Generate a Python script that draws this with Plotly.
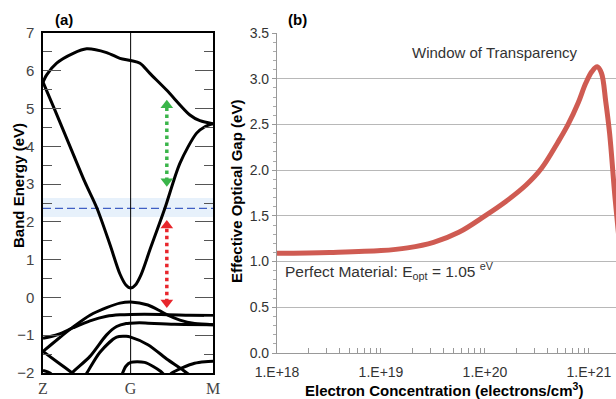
import numpy as np
import plotly.graph_objects as go

FONT = "Arial, 'Liberation Sans', Helvetica, sans-serif"
SERIF = "'Times New Roman', 'Liberation Serif', serif"

# ---------------- Panel (a): band structure ----------------
k_ticks = [0.0, 1.0, 1.94]
k_labels = ["Z", "G", "M"]

band_top_k = [0, 0.042, 0.156, 0.345, 0.498, 0.726, 0.878, 1.0, 1.107, 1.22, 1.41, 1.676, 1.79, 1.94]
band_top_E = [5.70, 5.89, 6.20, 6.46, 6.58, 6.48, 6.33, 6.27, 6.20, 5.93, 5.49, 4.83, 4.68, 4.60]

band_cb_k = [0, 0.137, 0.308, 0.479, 0.616, 0.764, 0.878, 0.946, 1.0, 1.054, 1.122, 1.22, 1.391, 1.562, 1.753, 1.847, 1.94]
band_cb_E = [5.70, 4.95, 4.00, 3.05, 2.36, 1.40, 0.62, 0.33, 0.25, 0.33, 0.62, 1.26, 2.36, 3.55, 4.35, 4.52, 4.60]

band_vb1_k = [0, 0.171, 0.345, 0.536, 0.726, 0.878, 1.0, 1.197, 1.345, 1.425, 1.562, 1.73, 1.94]
band_vb1_E = [-1.43, -1.10, -0.78, -0.47, -0.27, -0.15, -0.12, -0.20, -0.37, -0.47, -0.60, -0.69, -0.72]

band_vb2_k = [0, 0.171, 0.345, 0.536, 0.726, 0.878, 1.0, 1.345, 1.676, 1.94]
band_vb2_E = [-1.08, -0.98, -0.80, -0.62, -0.50, -0.46, -0.45, -0.45, -0.47, -0.48]

band_vb3_k = [0.29, 0.33, 0.536, 0.726, 0.84, 0.95, 1.0, 1.1, 1.2, 1.5, 1.94]
band_vb3_E = [-2.12, -2.0, -1.56, -0.99, -0.77, -0.69, -0.68, -0.67, -0.68, -0.71, -0.72]

band_vb4_k = [0, 0.171, 0.345, 0.45]
band_vb4_E = [-1.43, -1.72, -2.02, -2.2]

band_vb5_k = [0.47, 0.50, 0.65, 0.84, 0.95, 1.0, 1.197, 1.425, 1.619, 1.70]
band_vb5_E = [-2.1, -2.0, -1.45, -1.05, -1.03, -1.05, -1.25, -1.65, -1.96, -2.1]

band_vb6_k = [0.88, 0.90, 0.946, 1.0, 1.159, 1.345, 1.40]
band_vb6_E = [-2.2, -2.05, -1.82, -1.72, -1.72, -1.96, -2.1]

band_vb7_k = [1.42, 1.47, 1.60, 1.73, 1.85, 1.94]
band_vb7_E = [-2.12, -2.0, -1.85, -1.74, -1.70, -1.69]

band_vb8_k = [0, 0.08, 0.12]
band_vb8_E = [-1.93, -2.0, -2.1]

level_E = 2.36            # dashed level
level_band_E = [2.13, 2.63]
arrow_k = 1.413
green_arrow_E = [2.93, 5.23]
red_arrow_E = [-0.28, 2.05]

# ---------------- Panel (b): optical gap ----------------
conc = [1e18, 3.2e18, 1e19, 1.8e19, 3.2e19, 5.6e19, 1e20, 1.6e20, 2.5e20, 3.5e20, 5e20,
        6.3e20, 7.9e20, 9.3e20, 1.07e21, 1.2e21, 1.32e21, 1.45e21, 1.58e21, 1.78e21, 2.0e21]
gap = [1.09, 1.10, 1.12, 1.15, 1.21, 1.32, 1.50, 1.66, 1.84, 2.02, 2.30,
       2.50, 2.74, 2.95, 3.08, 3.13, 3.06, 2.75, 2.40, 1.70, 1.10]
window_conc = [9.4e20, 1.44e21]
decades = [1e18, 1e19, 1e20, 1e21]
decade_labels = ["1.E+18", "1.E+19", "1.E+20", "1.E+21"]

fig = go.Figure()

bands = [(band_top_k, band_top_E), (band_cb_k, band_cb_E), (band_vb1_k, band_vb1_E),
         (band_vb2_k, band_vb2_E), (band_vb3_k, band_vb3_E), (band_vb4_k, band_vb4_E),
         (band_vb5_k, band_vb5_E), (band_vb6_k, band_vb6_E), (band_vb7_k, band_vb7_E),
         (band_vb8_k, band_vb8_E)]
for bk, be in bands:
    fig.add_trace(go.Scatter(x=bk, y=be, mode="lines", xaxis="x", yaxis="y",
                             line=dict(color="black", width=3, shape="spline", smoothing=0.8),
                             hoverinfo="skip"))

px_per_eV = 340 / 9.0
head = 11
off = (head / 2) / px_per_eV
for col, (lo, hi) in (("#3ab54a", green_arrow_E), ("#e8262c", red_arrow_E)):
    fig.add_trace(go.Scatter(x=[arrow_k, arrow_k], y=[lo + 0.15, hi - 0.15], mode="lines",
                             xaxis="x", yaxis="y",
                             line=dict(color=col, width=3.5, dash="dot"), hoverinfo="skip"))
    fig.add_trace(go.Scatter(x=[arrow_k, arrow_k], y=[hi - off, lo + off], mode="markers",
                             xaxis="x", yaxis="y",
                             marker=dict(symbol=["triangle-up", "triangle-down"], size=head,
                                         color=col, line=dict(width=0)),
                             hoverinfo="skip"))

fig.add_trace(go.Scatter(x=conc, y=gap, mode="lines", xaxis="x2", yaxis="y2",
                         line=dict(color="#cf5b52", width=5, shape="spline", smoothing=1.0),
                         hoverinfo="skip"))

shapes = [
    dict(type="rect", xref="x", yref="y", x0=0, x1=k_ticks[-1], y0=level_band_E[0], y1=level_band_E[1],
         fillcolor="#e7f1fb", line=dict(width=0), layer="below"),
    dict(type="line", xref="x", yref="y", x0=0, x1=k_ticks[-1], y0=level_E, y1=level_E,
         line=dict(color="#3f5fc4", width=1.2, dash="8px,4px"), layer="below"),
    dict(type="line", xref="x", yref="y", x0=k_ticks[1], x1=k_ticks[1], y0=-2, y1=7,
         line=dict(color="black", width=1), layer="below"),
    dict(type="rect", xref="x2", yref="y2", x0=np.log10(window_conc[0]), x1=np.log10(window_conc[1]),
         y0=0, y1=3.5, fillcolor="rgba(170,204,222,0.5)", line=dict(width=0), layer="above"),
    dict(type="line", xref="x2", yref="y2", x0=18, x1=21.3, y0=3.5, y1=3.5,
         line=dict(color="#8a8a8a", width=1.3)),
]

minor_vals = []
for d in decades[:-1]:
    minor_vals += [d * m for m in range(2, 10)]
minor_vals += [2e21]


def note(text, x, y, size, color="#333", angle=0, xanchor="center"):
    return dict(text=text, xref="paper", yref="paper", x=x / 616, y=1 - y / 399,
                xanchor=xanchor, yanchor="middle", textangle=angle, showarrow=False,
                font=dict(family=FONT, size=size, color=color))


annotations = [
    note("<b>(a)</b>", 64, 19, 15, "black"),
    note("<b>(b)</b>", 297, 19, 15, "black"),
    note("<b>Band Energy (eV)</b>", 18, 186, 15, "black", -90),
    note("<b>Effective Optical Gap (eV)</b>", 236, 192, 15, "black", -90),
    note("<b>Electron Concentration (electrons/cm<sup>3</sup>)</b>", 444, 389, 15, "black"),
    note("Window of Transparency", 580, 52, 15, xanchor="right"),
    note("Perfect Material: E<sub>opt</sub> = 1.05 <sup>eV</sup>", 283, 271, 15.5, xanchor="left"),
]

fig.update_layout(
    width=616, height=399,
    margin=dict(l=0, r=0, t=0, b=0, pad=0, autoexpand=False),
    paper_bgcolor="white", plot_bgcolor="rgba(0,0,0,0)",
    showlegend=False,
    font=dict(family=FONT, color="#333"),
    shapes=shapes, annotations=annotations,
    xaxis=dict(domain=[43 / 616, 213 / 616], range=[0, k_ticks[-1]], anchor="y", automargin=False,
               tickmode="array", tickvals=k_ticks, ticktext=k_labels, ticks="",
               tickfont=dict(family=SERIF, size=16, color="#444"), ticklabelstandoff=0,
               showline=True, linecolor="black", linewidth=1.5, mirror=True,
               showgrid=False, zeroline=False),
    yaxis=dict(domain=[26 / 399, 366 / 399], range=[-2, 7], anchor="x", automargin=False,
               tickmode="array", tickvals=list(range(-2, 8)), ticks="inside", ticklen=18,
               tickcolor="#555", tickwidth=1.3,
               minor=dict(tickvals=[v + 0.5 for v in range(-2, 7)], ticks="inside", ticklen=9,
                          tickcolor="#555", tickwidth=1.3),
               tickfont=dict(family=FONT, size=15, color="#444"), ticklabelstandoff=4,
               showline=True, linecolor="black", linewidth=1.5, mirror="ticks",
               showgrid=False, zeroline=False),
    xaxis2=dict(domain=[277 / 616, 1.0], type="log", range=[18, 21.26], anchor="y2", automargin=False,
                tickmode="array", tickvals=decades + minor_vals,
                ticktext=decade_labels + [""] * len(minor_vals),
                ticks="inside", ticklen=5, tickcolor="#999",
                tickfont=dict(family=FONT, size=14, color="#333"), ticklabelstandoff=6,
                showline=True, linecolor="#999", linewidth=1.2,
                showgrid=False, zeroline=False),
    yaxis2=dict(domain=[46 / 399, 366 / 399], range=[0, 3.5], anchor="x2", automargin=False,
                dtick=0.5, tickformat=".1f", ticks="outside", ticklen=4, tickcolor="#999",
                minor=dict(dtick=0.1, ticks="outside", ticklen=3, tickcolor="#aaa", showgrid=False),
                tickfont=dict(family=FONT, size=14, color="#333"),
                showline=True, linecolor="#999", linewidth=1.2,
                showgrid=True, gridcolor="#b8b8b8", gridwidth=1, zeroline=False),
)

fig.write_html("out.html", config={"displayModeBar": False},
               post_script="document.body.style.margin='0px';document.body.style.padding='0px';"
                           "document.body.style.overflow='hidden';")
